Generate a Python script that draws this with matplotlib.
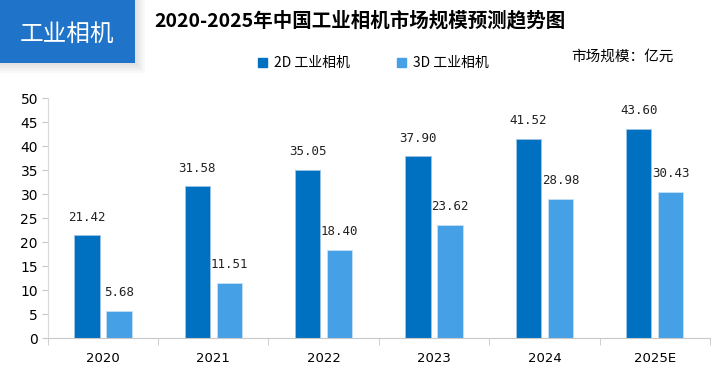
import matplotlib.pyplot as plt
import matplotlib.patches as mpatches
import numpy as np

# data
years = ['2020', '2021', '2022', '2023', '2024', '2025E']
cam_2d = [21.42, 31.58, 35.05, 37.90, 41.52, 43.60]
cam_3d = [5.68, 11.51, 18.40, 23.62, 28.98, 30.43]
series_names = ['2D 工业相机', '3D 工业相机']

dark = '#0070c0'
light = '#45a0e6'
cjk = ['Noto Sans CJK SC', 'DejaVu Sans']

fig = plt.figure(figsize=(7.16, 3.71), dpi=100)
ax = fig.add_axes([0.0666, 0.0889, 0.9250, 0.6469])

x = np.arange(len(years))
w = 0.23
off = 0.145
b1 = ax.bar(x - off, cam_2d, w, color=dark, edgecolor='#9dc3e6', linewidth=0.6)
b2 = ax.bar(x + off, cam_3d, w, color=light, edgecolor='#c5e0f5', linewidth=0.6)

for bars, vals in [(b1, cam_2d), (b2, cam_3d)]:
    for r, v in zip(bars, vals):
        ax.annotate(f'{v:.2f}', (r.get_x() + r.get_width() / 2, v),
                    xytext=(0, 18), textcoords='offset pixels',
                    ha='center', va='center', fontsize=9,
                    family='DejaVu Sans Mono', color='#222222')

ax.set_xlim(-0.5, len(years) - 0.5)
ax.set_ylim(0, 50)
ax.set_yticks(range(0, 51, 5))
ax.set_xticks(x)
ax.set_xticklabels(years, fontsize=9.5)
ax.set_xticks(np.arange(-0.5, len(years), 1), minor=True)
ax.tick_params(axis='x', which='major', length=0, pad=10)
ax.tick_params(axis='x', which='minor', length=5, color='#c8c8c8')
ax.tick_params(axis='y', length=4, color='#c8c8c8', labelsize=10, pad=3)
for s in ['top', 'right']:
    ax.spines[s].set_visible(False)
ax.spines['left'].set_color('#d9d9d9')
ax.spines['bottom'].set_color('#c8c8c8')

# legend
handles = [mpatches.Patch(color=dark), mpatches.Patch(color=light)]
fig.legend(handles, series_names, loc='center', bbox_to_anchor=(0.521, 0.830),
           ncol=2, frameon=False, handlelength=0.65, handleheight=0.65,
           handletextpad=0.5, columnspacing=3.4, prop={'family': cjk, 'size': 10})

# title and unit note
fig.text(0.503, 0.945, '2020-2025年中国工业相机市场规模预测趋势图', ha='center', va='center',
         fontsize=14, fontweight='bold', family=cjk)
fig.text(0.869, 0.846, '市场规模：亿元', ha='center', va='center', fontsize=10.5, family=cjk)

# blue tag top-left with a soft shadow
for i in range(5):
    pad = (5 - i) * 2
    fig.patches.append(mpatches.Rectangle((0, 1 - (63 + pad) / 371), (135 + pad) / 716, (63 + pad) / 371,
                                          transform=fig.transFigure, color='black', alpha=0.022, lw=0))
fig.patches.append(mpatches.Rectangle((0, 1 - 63 / 371), 135 / 716, 63 / 371,
                                      transform=fig.transFigure, color='#1f74c9', lw=0))
fig.text(67 / 716, 1 - 34 / 371, '工业相机', ha='center', va='center', color='white',
         fontsize=17, family=cjk)

fig.savefig('out.png', dpi=100)
